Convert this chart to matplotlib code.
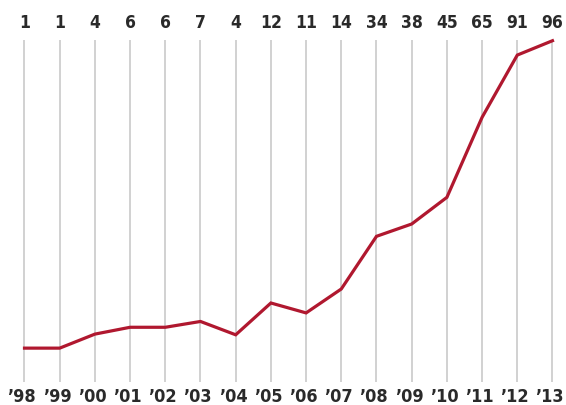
import matplotlib.pyplot as plt
import matplotlib.font_manager as fm

years = ["’98", "’99", "’00", "’01", "’02", "’03", "’04", "’05",
         "’06", "’07", "’08", "’09", "’10", "’11", "’12", "’13"]
counts = [1, 1, 4, 6, 6, 7, 4, 12, 11, 14, 34, 38, 45, 65, 91, 96]
# line height (0 = bottom of grid, 100 = top)
index = [9.9, 9.9, 14.0, 16.0, 16.0, 17.7, 13.8, 23.1,
         20.2, 27.2, 42.6, 46.2, 54.0, 77.4, 95.6, 99.8]


def narrow_bold(size):
    # look for any condensed / narrow bold face that is installed
    best = None
    for f in fm.fontManager.ttflist:
        w = f.weight if isinstance(f.weight, int) else 700 if "bold" in str(f.weight) else 400
        narrow = ("Narrow" in f.name or "Condensed" in f.name or "Condensed" in f.fname
                  or "condensed" in str(f.stretch))
        if narrow and w >= 600 and "Oblique" not in f.fname and "Italic" not in f.fname:
            if best is None or "Liberation" in f.name:
                best = f
    if best is not None:
        return fm.FontProperties(fname=best.fname, size=size)
    return fm.FontProperties(family="DejaVu Sans", weight="bold", size=size - 2)


fp_top = narrow_bold(12.5)
fp_bot = narrow_bold(13)

fig = plt.figure(figsize=(5.66, 4.06), dpi=100)
ax = fig.add_axes([0, 0, 1, 1])
ax.axis("off")

x = list(range(len(years)))
ax.vlines(x, 0, 100, color="#c9c9c9", lw=1.2, zorder=1)
ax.plot(x, index, color="#b0182f", lw=2.3, solid_joinstyle="miter", zorder=3)

for i in x:
    ax.text(i, 103.7, str(counts[i]), ha="center", va="baseline",
            fontproperties=fp_top, color="#2a2a2a")
    ax.text(i - 0.08, -5.5, years[i], ha="center", va="baseline",
            fontproperties=fp_bot, color="#2a2a2a")

ax.set_xlim(-0.696, 15.384)
ax.set_ylim(-6.73, 112.0)

fig.savefig("out.png", dpi=100)
